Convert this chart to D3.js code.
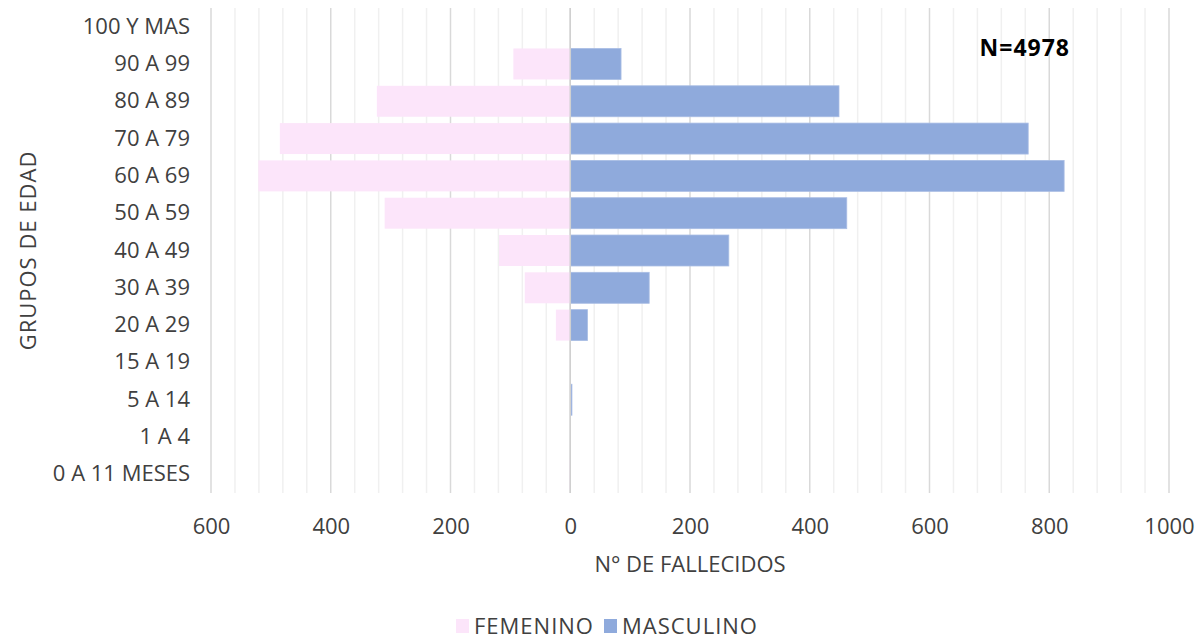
<!DOCTYPE html>
<html lang="es">
<head>
<meta charset="UTF-8">
<title>Fallecidos por grupos de edad</title>
<script src="https://d3js.org/d3.v7.min.js"></script>
<style>
    body { margin: 0; background: #fff; }
    svg text { font-family: "Open Sans", "Noto Sans", sans-serif; fill: #404040; }
</style>
</head>
<body>
<svg id="chart" width="1199" height="639"></svg>
<script>
    // data
    const groups = ["100 Y MAS", "90 A 99", "80 A 89", "70 A 79", "60 A 69", "50 A 59",
        "40 A 49", "30 A 39", "20 A 29", "15 A 19", "5 A 14", "1 A 4", "0 A 11 MESES"];
    const femenino = [0, 95, 323, 485, 521, 310, 119, 76, 24, 0, 0, 0, 1];
    const masculino = [0, 84, 448, 764, 824, 461, 264, 131, 28, 0, 2, 0, 0];
    const xTicks = [-600, -400, -200, 0, 200, 400, 600, 800, 1000];
    const minorStep = 40;
    const seriesNames = ["FEMENINO", "MASCULINO"];
    const colors = ["#fce5fa", "#8faadc"];

    const svg = d3.select("#chart");
    const plot = { left: 211, right: 1169, top: 8, bottom: 493 };
    const fontSize = "22px";

    const x = d3.scaleLinear().domain([-600, 1000]).range([plot.left, plot.right]);
    const y = d3.scaleBand().domain(groups).range([plot.top, plot.bottom])
        .paddingInner(0.17).paddingOuter(0.085);

    // minor gridlines
    const minor = d3.range(-600, 1000 + 1, minorStep).filter(v => v % 200 !== 0);
    svg.append("g").selectAll("line").data(minor).join("line")
        .attr("x1", d => x(d)).attr("x2", d => x(d))
        .attr("y1", plot.top).attr("y2", plot.bottom)
        .attr("stroke", "#f0f0f0").attr("stroke-width", 1.5);

    // major gridlines
    svg.append("g").selectAll("line").data(xTicks).join("line")
        .attr("x1", d => x(d)).attr("x2", d => x(d))
        .attr("y1", plot.top).attr("y2", plot.bottom)
        .attr("stroke", "#d9d9d9").attr("stroke-width", 1.5);

    const rows = groups.map((g, i) => ({ group: g, f: femenino[i], m: masculino[i] }));

    // femenino to the left of zero
    svg.append("g").selectAll("rect").data(rows.filter(d => d.f > 0)).join("rect")
        .attr("x", d => x(-d.f))
        .attr("y", d => y(d.group))
        .attr("width", d => x(0) - x(-d.f))
        .attr("height", y.bandwidth())
        .attr("fill", colors[0]);

    // masculino to the right
    svg.append("g").selectAll("rect").data(rows.filter(d => d.m > 0)).join("rect")
        .attr("x", x(0) + 0.5)
        .attr("y", d => y(d.group))
        .attr("width", d => x(d.m) - x(0))
        .attr("height", y.bandwidth())
        .attr("fill", colors[1])
        .attr("stroke", "#a9bde4").attr("stroke-width", 0.8);

    // zero line
    svg.append("line")
        .attr("x1", x(0)).attr("x2", x(0))
        .attr("y1", plot.top).attr("y2", plot.bottom)
        .attr("stroke", "#d0d0d0").attr("stroke-width", 1.5);

    // y axis labels
    const yAxis = svg.append("g")
        .attr("transform", `translate(${plot.left - 9},0)`)
        .call(d3.axisLeft(y).tickSize(0).tickPadding(12));
    yAxis.select(".domain").remove();
    yAxis.selectAll("text").attr("font-size", fontSize).attr("fill", "#404040")
        .attr("font-family", "'Open Sans', sans-serif");

    // x axis labels (absolute values)
    const xAxis = svg.append("g")
        .attr("transform", `translate(0,${plot.bottom})`)
        .call(d3.axisBottom(x).tickValues(xTicks).tickSize(0).tickPadding(25)
            .tickFormat(d => Math.abs(d)));
    xAxis.select(".domain").remove();
    xAxis.selectAll("text").attr("font-size", fontSize).attr("fill", "#404040")
        .attr("font-family", "'Open Sans', sans-serif");

    // axis titles
    svg.append("text")
        .attr("x", x(200)).attr("y", 572)
        .attr("text-anchor", "middle").attr("font-size", fontSize)
        .text("N° DE FALLECIDOS");

    svg.append("text")
        .attr("transform", `translate(36,${(plot.top + plot.bottom) / 2}) rotate(-90)`)
        .attr("text-anchor", "middle").attr("font-size", fontSize)
        .attr("letter-spacing", "1px")
        .text("GRUPOS DE EDAD");

    // total
    svg.append("text")
        .attr("x", 1070).attr("y", 56)
        .attr("text-anchor", "end").attr("font-size", "23px").attr("font-weight", "bold")
        .attr("letter-spacing", "1px")
        .style("fill", "#000")
        .text("N=4978");

    // legend
    const legendX = [456, 604];
    const legend = svg.append("g").selectAll("g").data(seriesNames).join("g")
        .attr("transform", (d, i) => `translate(${legendX[i]},619)`);
    legend.append("rect")
        .attr("y", 0).attr("width", 13).attr("height", 14)
        .attr("fill", (d, i) => colors[i]);
    legend.append("text")
        .attr("x", 18).attr("y", 15)
        .attr("font-size", fontSize)
        .attr("letter-spacing", "1px")
        .text(d => d);
</script>
</body>
</html>
